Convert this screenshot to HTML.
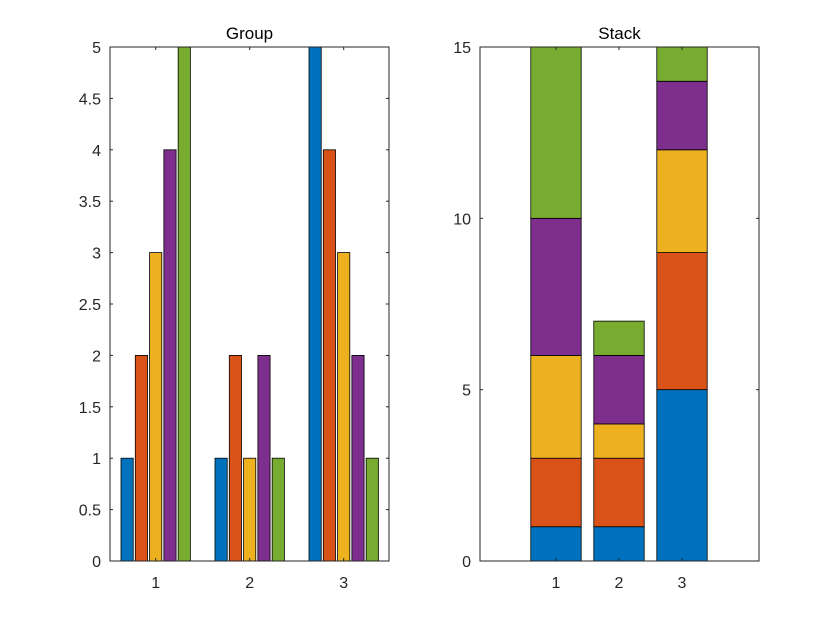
<!DOCTYPE html>
<html><head><meta charset="utf-8"><style>
body{margin:0;background:#fff;}
svg{display:block;font-family:"Liberation Sans",Arial,sans-serif;}
</style></head><body>
<svg id="c" width="840" height="630"></svg>
<script>
const categories=[1,2,3];
const series1=[1,1,5];
const series2=[2,2,4];
const series3=[3,1,3];
const series4=[4,2,2];
const series5=[5,1,1];
const leftTicks=[0,0.5,1,1.5,2,2.5,3,3.5,4,4.5,5];
const leftTickLabels=["0","0.5","1","1.5","2","2.5","3","3.5","4","4.5","5"];
const rightTicks=[0,5,10,15];
const rightTickLabels=["0","5","10","15"];
const colors=["#0072BD","#D95319","#EDB120","#7E2F8E","#77AC30"];
const S=[series1,series2,series3,series4,series5];
const svg=document.getElementById('c');
const NS='http://www.w3.org/2000/svg';
function mk(t,a,p){const e=document.createElementNS(NS,t);for(const k in a)e.setAttribute(k,a[k]);(p||svg).appendChild(e);return e;}
const yTop=47,yBot=561;
function axes(x0,x1,xmin,xmax,ymax,name){
  const xs=v=>x0+(v-xmin)/(xmax-xmin)*(x1-x0);
  const ys=v=>yBot-v/ymax*(yBot-yTop);
  const g=mk('g',{});
  
  
  mk('rect',{x:x0,y:yTop,width:x1-x0,height:yBot-yTop,fill:'#fff',stroke:'none'},g);
  return {xs,ys,g};
}
function frame(A,x0,x1,yt,yl,title,tname){
  const g=A.g;
  mk('rect',{x:x0,y:yTop,width:x1-x0,height:yBot-yTop,fill:'none',stroke:'#262626','stroke-width':1},g);
  yt.forEach((v,i)=>{const y=A.ys(v);
    mk('line',{x1:x0,x2:x0+3,y1:y,y2:y,stroke:'#262626'},g);
    mk('line',{x1:x1,x2:x1-3,y1:y,y2:y,stroke:'#262626'},g);
    const t=mk('text',{x:x0-9,y:y+6,'text-anchor':'end','font-size':16,fill:'#262626'},g);t.textContent=yl[i];
    
    
  });
  categories.forEach(c=>{const x=A.xs(c);
    mk('line',{x1:x,x2:x,y1:yBot,y2:yBot-3,stroke:'#262626'},g);
    mk('line',{x1:x,x2:x,y1:yTop,y2:yTop+3,stroke:'#262626'},g);
    const t=mk('text',{x:x,y:yBot+27,'text-anchor':'middle','font-size':16,fill:'#262626'},g);t.textContent=c;
    
    
  });
  const t=mk('text',{x:(x0+x1)/2,y:yTop-8,'text-anchor':'middle','font-size':17,fill:'#000'},g);t.textContent=title;
  
  
}
const L=axes(110,389,0.514,3.482,5,'group-axes');
const bw=0.13,step=0.152;
categories.forEach((c,ci)=>{S.forEach((s,si)=>{
  const cx=c+(si-2)*step;
  const r=mk('rect',{x:L.xs(cx-bw/2),y:L.ys(s[ci]),width:L.xs(cx+bw/2)-L.xs(cx-bw/2),height:L.ys(0)-L.ys(s[ci]),fill:colors[si],stroke:'#000','stroke-width':0.8},L.g);
  
  
});});
frame(L,110,389,leftTicks,leftTickLabels,'Group','group-title');
const R=axes(480,759,-0.206,4.222,15,'stack-axes');
categories.forEach((c,ci)=>{let acc=0;S.forEach((s,si)=>{
  const v=s[ci];const y0=R.ys(acc),y1=R.ys(acc+v);acc+=v;
  const r=mk('rect',{x:R.xs(c-0.4),y:y1,width:R.xs(c+0.4)-R.xs(c-0.4),height:y0-y1,fill:colors[si],stroke:'#000','stroke-width':0.8},R.g);
  
  
});});
frame(R,480,759,rightTicks,rightTickLabels,'Stack','stack-title');
</script>
</body></html>
